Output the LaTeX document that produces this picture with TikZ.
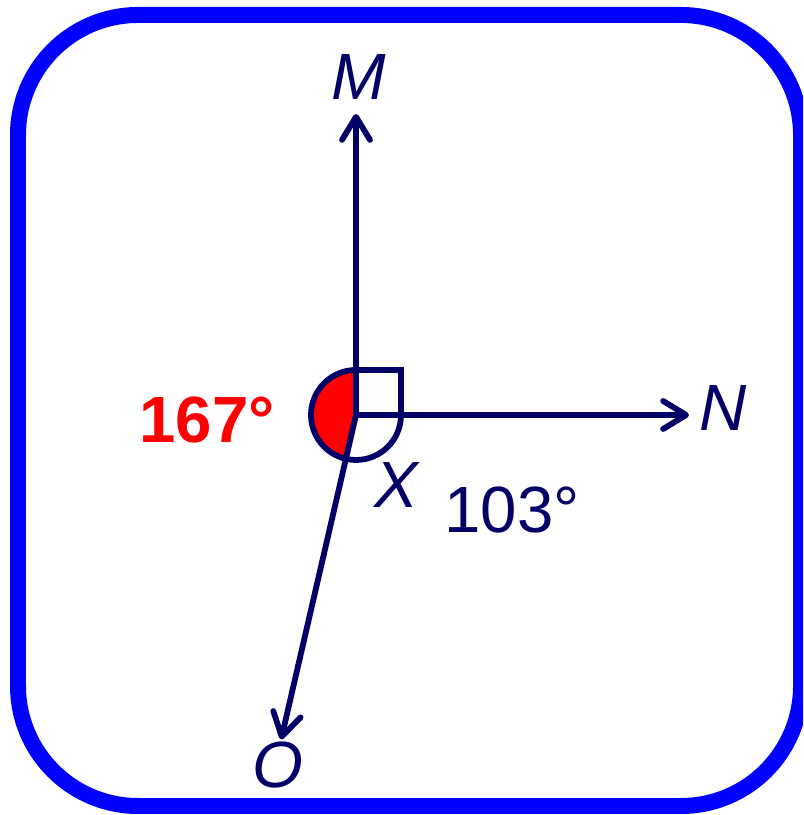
\documentclass[tikz,border=0pt]{standalone}
\usepackage{fontspec}
\setsansfont{Liberation Sans}
\usetikzlibrary{arrows.meta, calc}
\definecolor{frameblue}{HTML}{0000FF}
\definecolor{raynavy}{HTML}{000066}
\definecolor{anglered}{HTML}{FF0000}

\begin{document}
\begin{tikzpicture}[font=\sffamily, every node/.style={outer sep=0pt, inner sep=0pt},
  ray/.style={raynavy, line width=1.65pt, line cap=round, line join=round,
    -{Straight Barb[length=2.3mm, width=2.8mm, line cap=round, line join=round]}},
  mark line/.style={raynavy, line width=1.65pt},
  point label/.style={text=raynavy, font=\sffamily\itshape\fontsize{18.6}{22}\selectfont},
  angle label/.style={font=\sffamily\fontsize{18.6}{22}\selectfont}]

\def\R{0.45}
\def\angO{257}

\useasboundingbox (0,0) rectangle (8.03,8.15);
\clip (0,0) rectangle (8.03,8.15);

% Outer frame
\draw[frameblue, line width=4.55pt, rounded corners=1.2cm]
  (0.18,0.09) rectangle (8.01,8.00);

% Vertex and ray ends
\coordinate (X) at (3.56,4.00);
\coordinate (M) at (3.56,7.01);
\coordinate (N) at (6.89,4.00);
\coordinate (O) at ($(X)+(\angO:3.33)$);

% Reflex angle MXO
\fill[anglered] (X) -- ++(90:\R) arc[start angle=90, end angle=\angO, radius=\R] -- cycle;
\draw[mark line] (X) ++(0:\R) arc[start angle=0, end angle=-270, radius=\R];

% Right angle MXN
\draw[mark line] (X) rectangle ++(\R,\R);

% Rays
\draw[ray] (X) -- (M);
\draw[ray] (X) -- (N);
\draw[ray] (X) -- (O);

% Point labels
\node[point label] (labM) at (3.59,7.38) {M};
\node[point label] (labN) at (7.23,4.07) {N};
\node[point label] (labO) at (2.78,0.50) {O};
\node[point label] (labX) at (3.96,3.30) {X};

% Angle values
\node[angle label, text=anglered, font=\sffamily\bfseries\fontsize{18.6}{22}\selectfont]
  (valMXO) at (2.07,3.95) {167°};
\node[angle label, text=raynavy] (valNXO) at (5.12,3.05) {103°};

\end{tikzpicture}
\end{document}
